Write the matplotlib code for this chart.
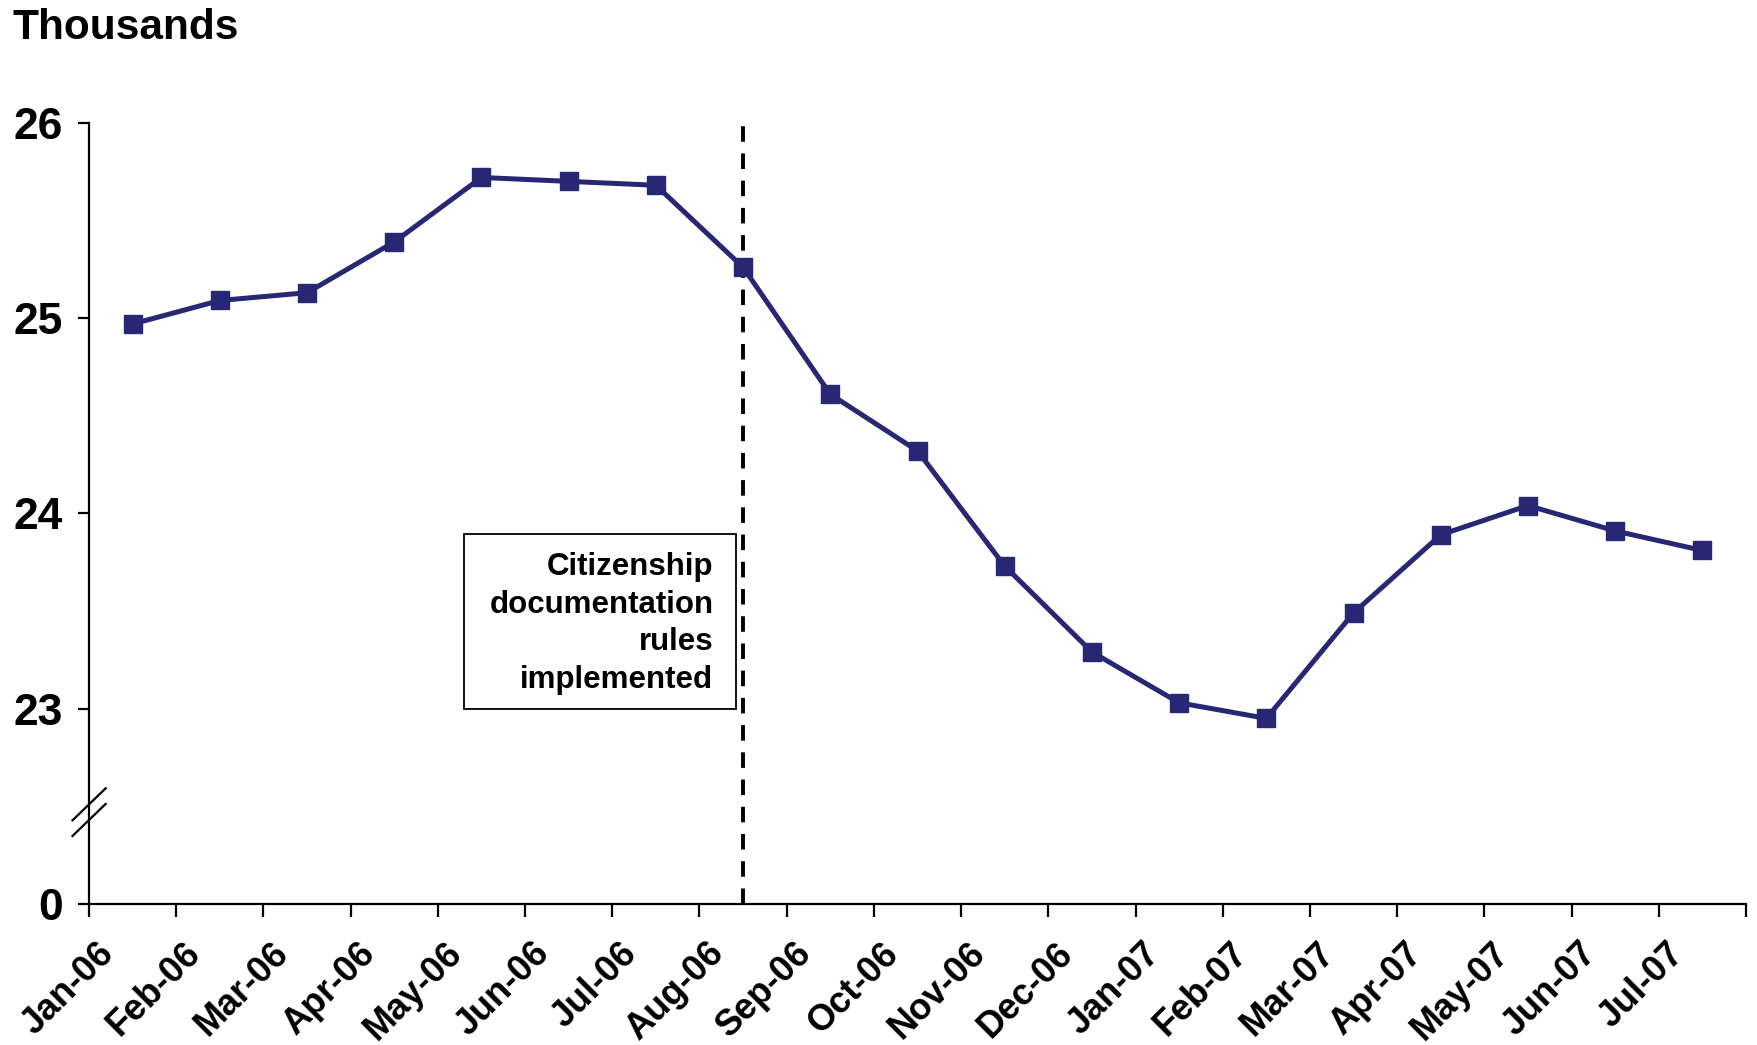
import matplotlib
matplotlib.use("Agg")
import matplotlib.pyplot as plt
import matplotlib.transforms as mtransforms
from matplotlib.ticker import FixedLocator, FixedFormatter

plt.rcParams['font.family'] = ['Liberation Sans', 'DejaVu Sans']
plt.rcParams['font.weight'] = 'bold'

# datos
months = ["Jan-06", "Feb-06", "Mar-06", "Apr-06", "May-06", "Jun-06", "Jul-06",
          "Aug-06", "Sep-06", "Oct-06", "Nov-06", "Dec-06", "Jan-07", "Feb-07",
          "Mar-07", "Apr-07", "May-07", "Jun-07", "Jul-07"]
values = [24.97, 25.09, 25.13, 25.39, 25.72, 25.70, 25.68, 25.26, 24.61, 24.32,
          23.73, 23.29, 23.03, 22.95, 23.49, 23.89, 24.04, 23.91, 23.81]
y_ticks = [22, 23, 24, 25, 26]
y_labels = ["0", "23", "24", "25", "26"]
event_month = "Aug-06"
event_text = "Citizenship\ndocumentation\nrules\nimplemented"

NAVY = "#272773"

fig = plt.figure(figsize=(17.57, 10.45), dpi=100)
ax = fig.add_axes([0.0507, 0.135, 0.9430, 0.7475])

xs = [i + 0.5 for i in range(len(months))]
ax.plot(xs, values, color=NAVY, lw=3.6, marker="s", ms=13.5,
        mfc=NAVY, mec=NAVY, zorder=3)

ax.set_xlim(0, len(months))
ax.set_ylim(22, 26)

# ejes
for s in ("top", "right"):
    ax.spines[s].set_visible(False)
for s in ("left", "bottom"):
    ax.spines[s].set_linewidth(1.6)

ax.yaxis.set_major_locator(FixedLocator(y_ticks))
ax.yaxis.set_major_formatter(FixedFormatter(y_labels))
ax.tick_params(axis="y", length=8, width=1.6, pad=11, labelsize=32)

ax.xaxis.set_major_locator(FixedLocator(range(len(months) + 1)))
ax.xaxis.set_major_formatter(FixedFormatter(months + [""]))
ax.tick_params(axis="x", length=9, width=1.6, pad=14, labelsize=26)
offset = mtransforms.ScaledTranslation(0.07, 0, fig.dpi_scale_trans)
for lab in ax.get_xticklabels():
    lab.set_rotation(45)
    lab.set_ha("right")
    lab.set_va("top")
    lab.set_rotation_mode("anchor")
    lab.set_transform(lab.get_transform() + offset)

# linea vertical del evento
ex = months.index(event_month) + 0.5
ax.axvline(ex, color="black", lw=2.8, dashes=(4, 3), zorder=2)

# recuadro con texto
ax.add_patch(plt.Rectangle((4.30, 23.0), 7.42 - 4.30, 23.895 - 23.0,
                           fill=False, ec="black", lw=1.3, zorder=4))
ax.text(7.16, 23.435, event_text, ha="right", va="center", fontsize=22.5,
        fontweight="bold", linespacing=1.33, zorder=4)

# marcas de corte del eje
for yb in (22.43, 22.51):
    ax.plot([-0.19, 0.19], [yb - 0.082, yb + 0.082], color="black", lw=1.6,
            clip_on=False, zorder=5)

fig.text(0.007, 0.992, "Thousands", ha="left", va="top", fontsize=30.5,
         fontweight="bold")

fig.savefig("out.png", dpi=100)
